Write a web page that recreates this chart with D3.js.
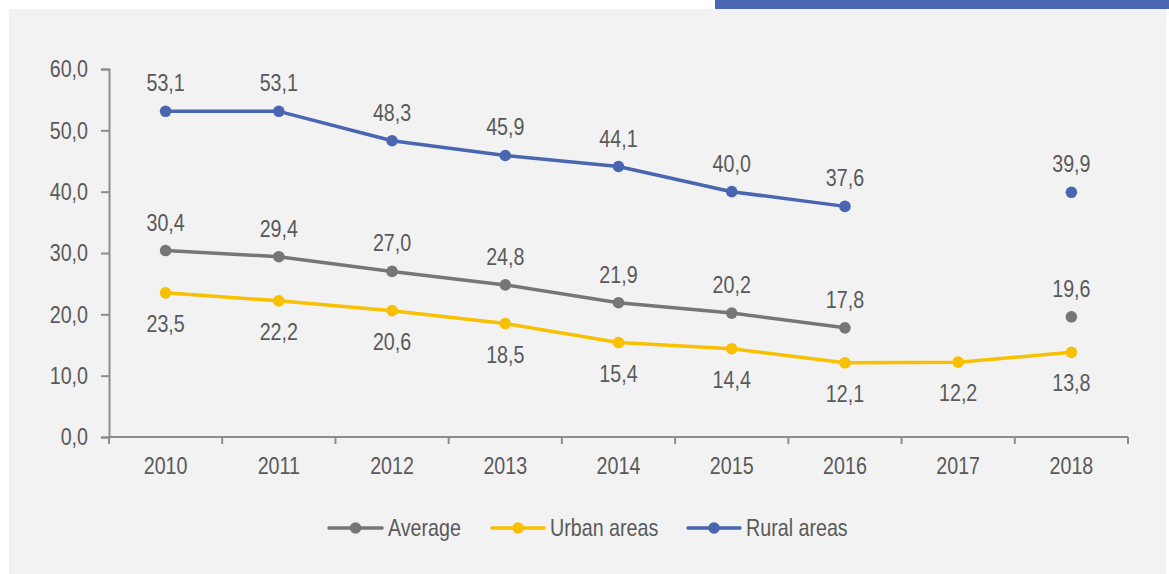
<!DOCTYPE html>
<html><head><meta charset="utf-8">
<script src="https://cdn.jsdelivr.net/npm/d3@7"></script>
<style>
html,body{margin:0;padding:0;background:#fff;}
svg text{font-family:"Liberation Sans",Arial,sans-serif;}
</style></head>
<body>
<svg id="chart" width="1169" height="574"></svg>
<script>
const years = ["2010","2011","2012","2013","2014","2015","2016","2017","2018"];
const average = [30.4, 29.4, 27.0, 24.8, 21.9, 20.2, 17.8, null, 19.6];
const urban = [23.5, 22.2, 20.6, 18.5, 15.4, 14.4, 12.1, 12.2, 13.8];
const rural = [53.1, 53.1, 48.3, 45.9, 44.1, 40.0, 37.6, null, 39.9];
const yTicks = [0, 10, 20, 30, 40, 50, 60];
const seriesNames = ["Average", "Urban areas", "Rural areas"];

const colors = {"Average":"#767676","Urban areas":"#F8C000","Rural areas":"#4A66B0"};
const labelPos = {"Average":"above","Urban areas":"below","Rural areas":"above"};
const series = [
  {name:"Average", values:average},
  {name:"Urban areas", values:urban},
  {name:"Rural areas", values:rural}
];

const S = 0.82; // horizontal condensing to mimic a narrow face
function narrow(sel){
  sel.each(function(){
    const t = d3.select(this);
    const xv = +(t.attr("x") || 0);
    t.attr("transform", `translate(${xv*(1-S)},0) scale(${S},1)`);
  });
}

const svg = d3.select("#chart");
svg.append("rect").attr("x",9).attr("y",9).attr("width",1157).attr("height",565).attr("fill","#F2F2F2");
svg.append("rect").attr("x",715).attr("y",0).attr("width",454).attr("height",9).attr("fill","#4A66B0");

const x = d3.scaleBand().domain(years).range([109,1128]).padding(0);
const y = d3.scaleLinear().domain([0,60]).range([437,69]);
const cx = d => x(d) + x.bandwidth()/2;
const fmt = v => d3.format(".1f")(v).replace(".", ",");
const axisColor = "#8C8C8C", textColor = "#595959";
const FS = "24px";

// Y axis
const ya = svg.append("g").attr("transform","translate(109,0)")
  .call(d3.axisLeft(y).tickValues(yTicks).tickSize(8).tickPadding(13).tickFormat(fmt));
ya.select(".domain").attr("stroke",axisColor).attr("stroke-width",2);
ya.selectAll(".tick line").attr("stroke",axisColor).attr("stroke-width",2);
ya.selectAll(".tick text").attr("fill",textColor).style("font-size",FS).call(narrow);

// X axis
const xa = svg.append("g").attr("transform","translate(0,437)")
  .call(d3.axisBottom(x).tickSize(0).tickPadding(20));
xa.select(".domain").remove();
xa.selectAll(".tick text").attr("fill",textColor).style("font-size",FS).call(narrow);
svg.append("line").attr("x1",x.range()[0]).attr("x2",x.range()[1]).attr("y1",437).attr("y2",437)
  .attr("stroke",axisColor).attr("stroke-width",2);
const bounds = years.map(d => x(d)).concat([x.range()[1]]);
svg.append("g").selectAll("line").data(bounds).join("line")
  .attr("x1",d=>d).attr("x2",d=>d).attr("y1",437).attr("y2",444)
  .attr("stroke",axisColor).attr("stroke-width",2);

// lines
const line = d3.line().defined(d => d.v != null).x(d => cx(d.year)).y(d => y(d.v));
series.forEach(s => {
  const pts = years.map((yr,i) => ({year:yr, v:s.values[i]}));
  const g = svg.append("g");
  g.append("path").datum(pts).attr("d",line).attr("fill","none")
    .attr("stroke",colors[s.name]).attr("stroke-width",3.5).attr("stroke-linejoin","round");
  const valid = pts.filter(d => d.v != null);
  g.selectAll("circle").data(valid).join("circle")
    .attr("cx",d=>cx(d.year)).attr("cy",d=>y(d.v)).attr("r",5.8).attr("fill",colors[s.name]);
  g.selectAll("text").data(valid).join("text")
    .attr("x",d=>cx(d.year))
    .attr("y",d=> labelPos[s.name]==="above" ? y(d.v)-20 : y(d.v)+39)
    .attr("text-anchor","middle").attr("fill",textColor).style("font-size",FS)
    .text(d=>fmt(d.v)).call(narrow);
});

// legend
const legendItems = [
  {name:"Average", x1:329, x2:382, tx:388},
  {name:"Urban areas", x1:492, x2:544, tx:550},
  {name:"Rural areas", x1:688, x2:740, tx:746}
];
const lg = svg.append("g");
legendItems.forEach(it => {
  lg.append("line").attr("x1",it.x1).attr("x2",it.x2).attr("y1",528).attr("y2",528)
    .attr("stroke",colors[it.name]).attr("stroke-width",3.5).attr("stroke-linecap","round");
  lg.append("circle").attr("cx",(it.x1+it.x2)/2).attr("cy",528).attr("r",5.8).attr("fill",colors[it.name]);
  lg.append("text").attr("x",it.tx).attr("y",536.5).attr("fill",textColor).style("font-size",FS).text(it.name).call(narrow);
});
</script>
</body></html>
